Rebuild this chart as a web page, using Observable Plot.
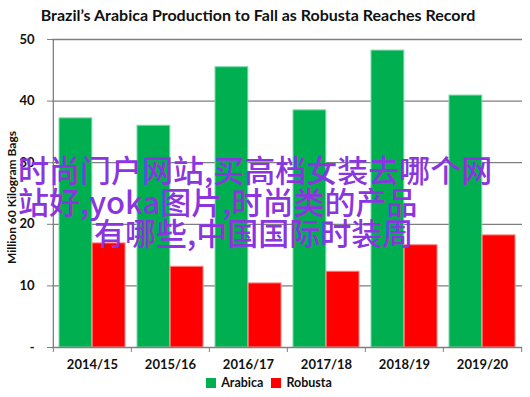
<!DOCTYPE html>
<html>
<head>
<meta charset="utf-8">
<script src="https://cdn.jsdelivr.net/npm/d3@7"></script>
<script src="https://cdn.jsdelivr.net/npm/@observablehq/plot@0.6"></script>
<style>
  body { margin: 0; background: #fff; width: 530px; height: 397px; overflow: hidden; position: relative; font-family: Lato, "Open Sans", sans-serif; }
  #title { position: absolute; left: 0; top: 5px; width: 516px; text-align: center; font-weight: bold; font-size: 16px; color: #111; }
  #chart { position: absolute; left: 0; top: 30px; }
  #legend { position: absolute; left: 0; top: 375px; width: 530px; text-align: center; font-weight: bold; font-size: 12.5px; color: #111; }
  #legend span.sw { display: inline-block; width: 10px; height: 10px; margin: 0 5px 0 8px; vertical-align: -1px; }
  .ov { position: absolute; font-family: "Noto Sans CJK SC", sans-serif; font-size: 31px; font-weight: 500; color: #8B35E0; white-space: nowrap; line-height: 1; }
</style>
</head>
<body>
<div id="title"></div>
<div id="chart"></div>
<div id="legend"></div>
<div class="ov" id="ov1" style="left:18px; top:153px;"></div>
<div class="ov" id="ov2" style="left:18px; top:185px;"></div>
<div class="ov" id="ov3" style="left:94px; top:216px;"></div>
<script>
const titleText = "Brazil\u2019s Arabica Production to Fall as Robusta Reaches Record";
const yLabel = "Million 60 Kilogram Bags";
const seasons = ["2014/15", "2015/16", "2016/17", "2017/18", "2018/19", "2019/20"];
const arabica = [37.2, 36.0, 45.5, 38.5, 48.2, 40.9];
const robusta = [16.9, 13.1, 10.4, 12.3, 16.6, 18.2];
const seriesNames = ["Arabica", "Robusta"];
const seriesColors = ["#00B050", "#FF0000"];
const yTicks = [0, 10, 20, 30, 40, 50];
const overlayLines = ["时尚门户网站,买高档女装去哪个网", "站好,yoka图片,时尚类的产品", "有哪些,中国国际时装周"];

document.getElementById("title").textContent = titleText;
overlayLines.forEach((t, i) => document.getElementById("ov" + (i + 1)).textContent = t);

const rows = seasons.map((s, i) => ({season: s, arabica: arabica[i], robusta: robusta[i]}));

const width = 530, height = 345;
const marginLeft = 52, marginRight = 8, marginTop = 9, marginBottom = 28;
const band = (width - marginLeft - marginRight) / seasons.length;
const edge = 6, barW = (band - 2 * edge) / 2;

const chart = Plot.plot({
  width, height, marginLeft, marginRight, marginTop, marginBottom,
  style: {fontFamily: "Lato, 'Open Sans', sans-serif", fontSize: "13px", fontWeight: "bold", color: "#111", background: "#fff"},
  x: {type: "band", domain: seasons, padding: 0},
  y: {domain: [0, 50]},
  marks: [
    Plot.gridY(yTicks.filter(d => d > 0), {stroke: "#7f7f7f", strokeOpacity: 1, strokeWidth: 1.3}),
    Plot.barY(rows, {x: "season", y: "arabica", fill: seriesColors[0], stroke: "#7fd8a7", strokeWidth: 1, insetLeft: edge, insetRight: edge + barW}),
    Plot.barY(rows, {x: "season", y: "robusta", fill: seriesColors[1], stroke: "#ff8080", strokeWidth: 1, insetLeft: edge + barW, insetRight: edge}),
    Plot.ruleX([seasons[0]], {dx: -band / 2, stroke: "#7f7f7f", strokeWidth: 1.3}),
    Plot.ruleY([0], {stroke: "#7f7f7f", strokeWidth: 1.3}),
    Plot.axisY({ticks: yTicks, tickFormat: d => d === 0 ? "-" : d, tickSize: 5, tickPadding: 13, stroke: "#7f7f7f", label: null, fontSize: 13}),
    Plot.text([yLabel], {frameAnchor: "left", textAnchor: "middle", dx: -40, dy: 4, rotate: -90, fontSize: 12, fontWeight: "bold", fill: "#111"}),
    Plot.axisX({ticks: seasons, tickSize: 0, tickPadding: 12, label: null, fontSize: 13}),
    Plot.axisX({ticks: seasons, tickFormat: () => "", tickSize: 5, dx: -band / 2, stroke: "#7f7f7f", label: null}),
    Plot.axisX({ticks: [seasons[seasons.length - 1]], tickFormat: () => "", tickSize: 5, dx: band / 2, stroke: "#7f7f7f", label: null})
  ]
});
document.getElementById("chart").appendChild(chart);

const legend = document.getElementById("legend");
seriesNames.forEach((n, i) => {
  const sw = document.createElement("span");
  sw.className = "sw"; sw.style.background = seriesColors[i];
  legend.appendChild(sw);
  legend.appendChild(document.createTextNode(n));
});
</script>
</body>
</html>
